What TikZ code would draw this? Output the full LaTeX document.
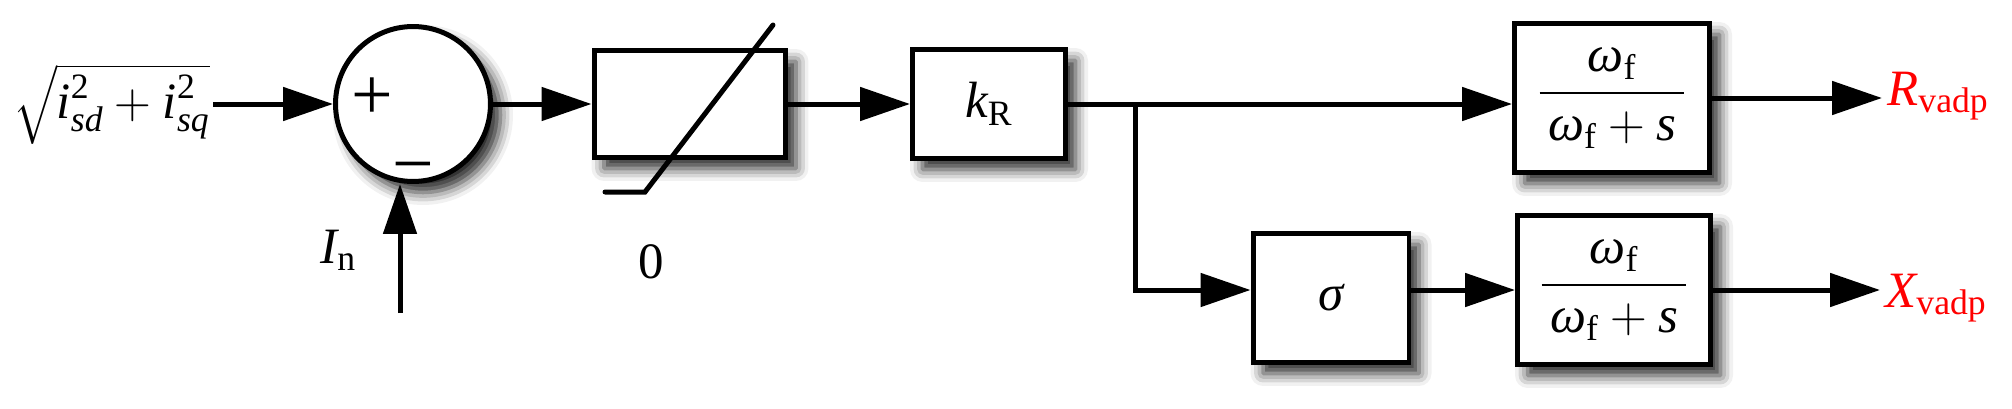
\documentclass[tikz,border=0pt]{standalone}
\usepackage{fix-cm}
\usepackage{amsmath}
\usepackage{fontspec}
\setmainfont{Liberation Serif}
\usetikzlibrary{arrows.meta,shadows.blur}
\newcommand{\vi}[1]{\textit{#1}}
\newcommand{\vr}[1]{\textrm{#1}}
\tikzset{
  every node/.style={font=\fontsize{29}{34}\selectfont},
  blk/.style={draw, line width=0.1cm, fill=white, inner sep=0pt,
    blur shadow={shadow xshift=0.2cm, shadow yshift=-0.22cm,
      shadow blur radius=0.25cm, shadow opacity=85}},
  sumnode/.style={blk, circle, minimum size=3.1cm},
  sgn/.style={inner sep=0pt, font=\fontsize{42}{48}\selectfont},
  sigline/.style={line width=0.1cm, -{Triangle[length=1cm,width=0.66cm]}},
  lbl/.style={inner sep=0pt},
}
\begin{document}
\begin{tikzpicture}
[x=0.02cm, y=-0.02cm]
\useasboundingbox (0,0) rectangle (2012,409);
% blocks
\node[sumnode] (sum) at (413,104) {};
\node[sgn] (plus) at (372,99) {+};
\node[sgn] (minus) at (413,175) {−};
\node[blk, minimum width=3.84cm, minimum height=2.14cm] (sat) at (690,104) {};
\node[blk, minimum width=3.06cm, minimum height=2.18cm] (kr) at (989,104) {$\vi{k}_{\vr{R}}$};
\node[blk, minimum width=3.12cm, minimum height=2.58cm] (sig) at (1331,298) {$\vi{σ}$};
\node[blk, minimum width=3.9cm, minimum height=2.98cm] (filtr) at (1612,98) {$\dfrac{\vi{ω}_{\vr{f}}}{\,\vi{ω}_{\vr{f}}+\vi{s}\,}$};
\node[blk, minimum width=3.86cm, minimum height=2.98cm] (filtx) at (1614,290) {$\dfrac{\vi{ω}_{\vr{f}}}{\,\vi{ω}_{\vr{f}}+\vi{s}\,}$};
% labels
\node[lbl, anchor=east] (inp) at (210,104) {$\sqrt{\vi{i}^{\vr{2}}_{\vi{sd}}+\vi{i}^{\vr{2}}_{\vi{sq}}}$};
\node[lbl, anchor=base west] (inn) at (320,263) {$\vi{I}_{\vr{n}}$};
\node[lbl, anchor=base] (zero) at (651,278) {0};
\node[lbl, anchor=base west, text=red] (outr) at (1887,105) {$\vi{R}_{\vr{vadp}}$};
\node[lbl, anchor=base west, text=red] (outx) at (1885,307) {$\vi{X}_{\vr{vadp}}$};
\coordinate (inbot) at (400,313);
\coordinate (br) at (1135,104);
% saturation curve
\draw[line width=0.1cm, line cap=round] (605,192) -- (645,192) -- (773,25);
% signals
\draw[sigline, shorten <=0.06cm] (inp.east |- sum) -- (sum.west);
\draw[sigline] (inbot) -- (inbot |- sum.south);
\draw[sigline] (sum.east) -- (sat.west);
\draw[sigline] (sat.east) -- (kr.west);
\draw[sigline] (kr.east) -- (kr.east -| filtr.west);
\draw[sigline] (br) |- (sig.west |- filtx.west);
\draw[sigline] (sig.east |- filtx.west) -- (filtx.west);
\draw[sigline, shorten >=0.1cm] (filtr.east) -- (outr.west |- filtr.east);
\draw[sigline, shorten >=0.1cm] (filtx.east) -- (outx.west |- filtx.east);
\end{tikzpicture}
\end{document}
